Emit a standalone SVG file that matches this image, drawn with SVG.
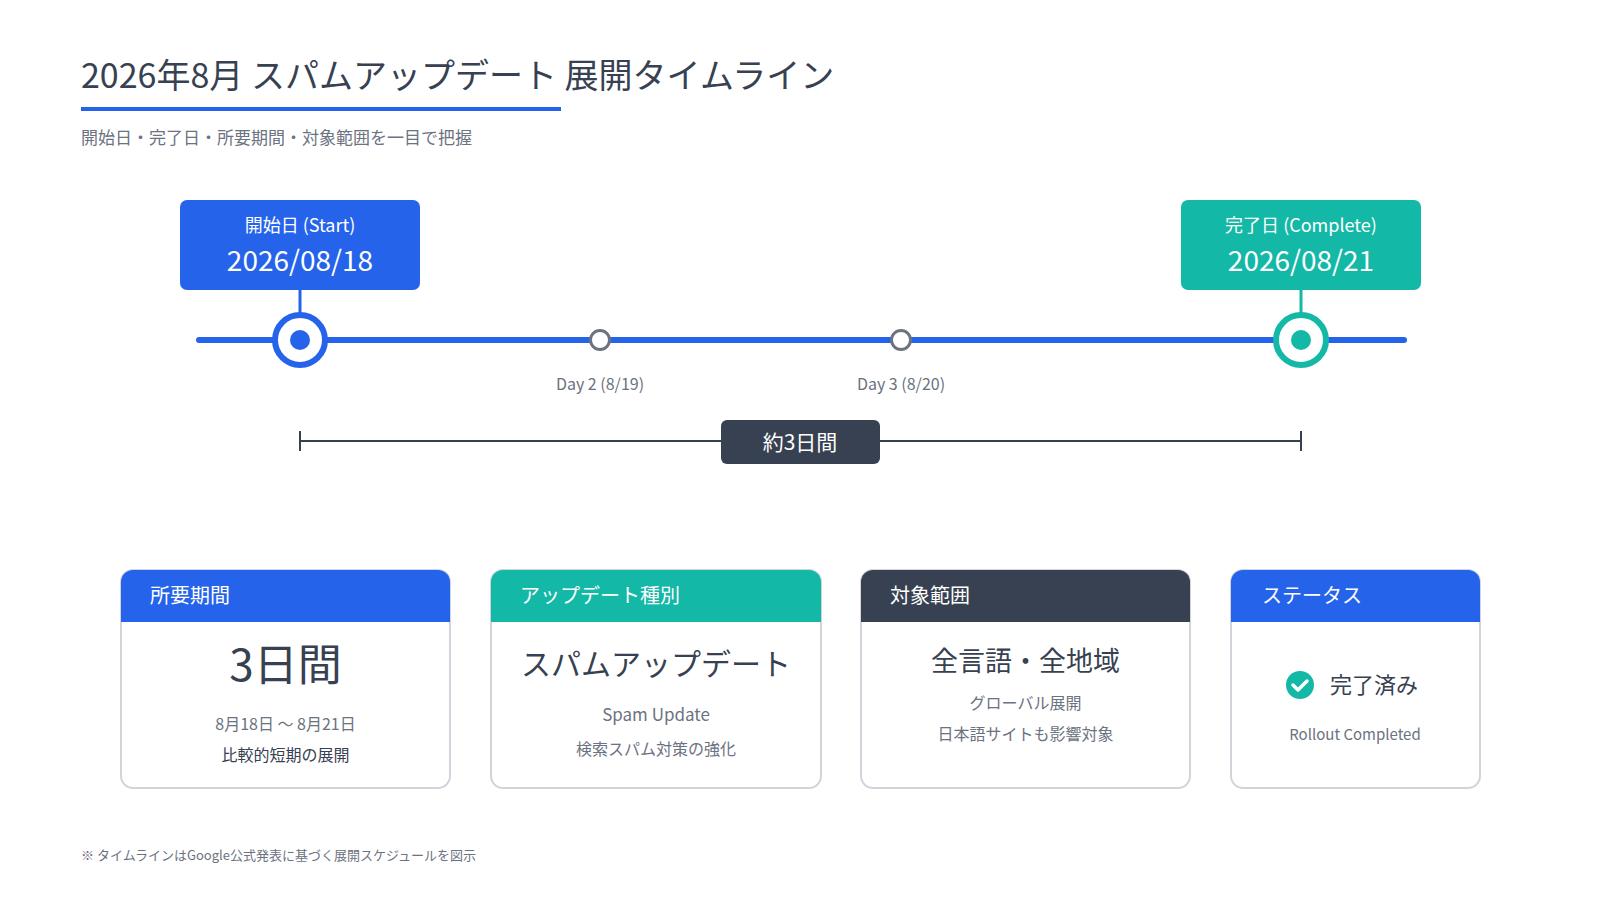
<svg xmlns="http://www.w3.org/2000/svg" width="1600" height="900" viewBox="0 0 1600 900">
<style>
text{font-family:"Noto Sans CJK JP","Noto Sans",sans-serif}
.w{fill:#fff}.g{fill:#6b7280}.d{fill:#374151}
.card{fill:#fff;stroke:#d1d5db;stroke-width:2}
.ht{fill:#fff;font-size:20px}
.c{text-anchor:middle}
</style>
<rect width="1600" height="900" fill="#fff"/>
<g id="title">
<text x="81" y="88" font-size="34" fill="#374151">2026年8月 スパムアップデート 展開タイムライン</text>
<rect x="81" y="107" width="480" height="4" fill="#2563eb"/>
<text x="81" y="144" font-size="17" class="g">開始日・完了日・所要期間・対象範囲を一目で把握</text>
</g>
<g id="connectors">
<line x1="199" y1="340" x2="1404" y2="340" stroke="#2563eb" stroke-width="6" stroke-linecap="round"/>
<line x1="300" y1="290" x2="300" y2="315" stroke="#2563eb" stroke-width="3"/>
<line x1="1301" y1="290" x2="1301" y2="315" stroke="#14b8a6" stroke-width="3"/>
<g stroke="#374151" stroke-width="2"><line x1="300" y1="441" x2="1301" y2="441"/><line x1="300" y1="431" x2="300" y2="451"/><line x1="1301" y1="431" x2="1301" y2="451"/></g>
</g>
<g id="start">
<rect x="180" y="200" width="240" height="90" rx="7" fill="#2563eb"/>
<text x="300" y="232" font-size="18" class="w c">開始日 (Start)</text>
<text x="300" y="271" font-size="28" class="w c">2026/08/18</text>
<circle cx="300" cy="340" r="25" fill="#fff" stroke="#2563eb" stroke-width="6"/>
<circle cx="300" cy="340" r="10" fill="#2563eb"/>
</g>
<g id="day2"><circle cx="600" cy="340" r="9.5" fill="#fff" stroke="#6b7280" stroke-width="3"/><text x="600" y="390" font-size="16" class="g c">Day 2 (8/19)</text></g>
<g id="day3"><circle cx="901" cy="340" r="9.5" fill="#fff" stroke="#6b7280" stroke-width="3"/><text x="901" y="390" font-size="16" class="g c">Day 3 (8/20)</text></g>
<g id="complete">
<rect x="1181" y="200" width="240" height="90" rx="7" fill="#14b8a6"/>
<text x="1301" y="232" font-size="18" class="w c">完了日 (Complete)</text>
<text x="1301" y="271" font-size="28" class="w c">2026/08/21</text>
<circle cx="1301" cy="340" r="25" fill="#fff" stroke="#14b8a6" stroke-width="6"/>
<circle cx="1301" cy="340" r="10" fill="#14b8a6"/>
</g>
<g id="duration">
<rect x="721" y="420" width="159" height="44" rx="6" fill="#374151"/>
<text x="800" y="450" font-size="21" class="w c">約3日間</text>
</g>
<g id="card1">
<rect x="121" y="570" width="329" height="218" rx="12" class="card"/>
<path d="M121 622V582a12 12 0 0 1 12-12h305a12 12 0 0 1 12 12v40z" fill="#2563eb"/>
<text x="150" y="603" class="ht">所要期間</text>
<text x="285.5" y="681" font-size="44" class="d c">3日間</text>
<text x="285.5" y="730" font-size="16" class="g c">8月18日 〜 8月21日</text>
<text x="285.5" y="761" font-size="16" class="d c">比較的短期の展開</text>
</g>
<g id="card2">
<rect x="491" y="570" width="330" height="218" rx="12" class="card"/>
<path d="M491 622V582a12 12 0 0 1 12-12h306a12 12 0 0 1 12 12v40z" fill="#14b8a6"/>
<text x="520" y="603" class="ht">アップデート種別</text>
<text x="656" y="675" font-size="30" class="d c">スパムアップデート</text>
<text x="656" y="721" font-size="17" class="g c">Spam Update</text>
<text x="656" y="755" font-size="16" class="g c">検索スパム対策の強化</text>
</g>
<g id="card3">
<rect x="861" y="570" width="329" height="218" rx="12" class="card"/>
<path d="M861 622V582a12 12 0 0 1 12-12h305a12 12 0 0 1 12 12v40z" fill="#374151"/>
<text x="890" y="603" class="ht">対象範囲</text>
<text x="1025.5" y="671" font-size="27" class="d c">全言語・全地域</text>
<text x="1025.5" y="709" font-size="16" class="g c">グローバル展開</text>
<text x="1025.5" y="740" font-size="16" class="g c">日本語サイトも影響対象</text>
</g>
<g id="card4">
<rect x="1231" y="570" width="249" height="218" rx="12" class="card"/>
<path d="M1231 622V582a12 12 0 0 1 12-12h225a12 12 0 0 1 12 12v40z" fill="#2563eb"/>
<text x="1262" y="603" class="ht">ステータス</text>
<circle cx="1300" cy="685" r="14" fill="#14b8a6"/>
<path d="M1293 685l5 5 9-9" fill="none" stroke="#fff" stroke-width="3.5" stroke-linecap="round" stroke-linejoin="round"/>
<text x="1330" y="693" font-size="22" class="d">完了済み</text>
<text x="1355" y="740" font-size="15" class="g c">Rollout Completed</text>
</g>
<text x="81" y="860" font-size="13" class="g">※ タイムラインはGoogle公式発表に基づく展開スケジュールを図示</text>
</svg>
